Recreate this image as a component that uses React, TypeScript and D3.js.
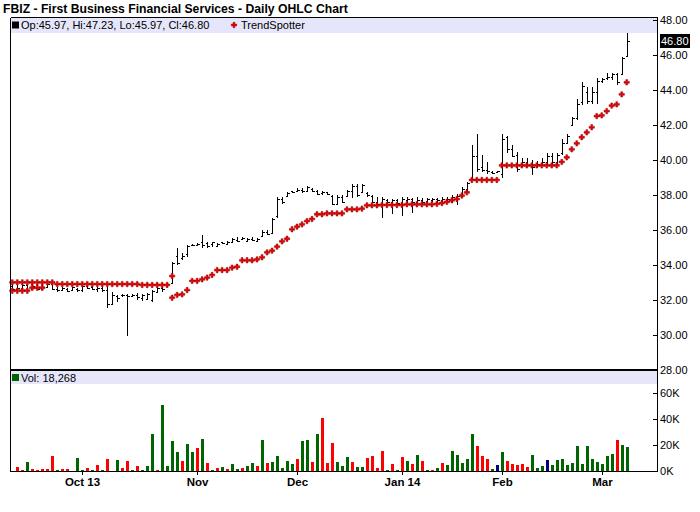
import * as d3 from "d3";

// daily bars, Sep 12 2013 .. Mar 2014 (124 sessions)
const highs = [
  32.86, 32.83, 32.9, 32.9, 32.86, 32.76, 32.8, 32.95, 32.95, 32.76,
  32.76, 32.67, 32.76, 32.67, 32.86, 32.86, 32.9, 32.76, 32.8, 32.76,
  32.47, 32.3, 32.35, 32.35, 32.35, 32.4, 32.35, 32.4, 32.57, 32.76,
  32.76, 32.95, 34.19, 34.99, 34.7, 35.14, 35.2, 35.25, 35.7, 35.33,
  35.33, 35.28, 35.33, 35.38, 35.56, 35.62, 35.62, 35.56, 35.62, 35.56,
  36.0, 36.0, 36.7, 37.9, 37.9, 38.19, 38.24, 38.38, 38.38, 38.53,
  38.4, 38.29, 38.24, 38.19, 38.0, 38.0, 38.0, 38.29, 38.61, 38.61,
  38.61, 38.19, 38.0, 37.9, 37.9, 37.77, 37.8, 37.77, 37.9, 37.9,
  37.81, 37.9, 37.81, 37.81, 37.81, 37.81, 37.9, 37.86, 38.0, 38.05,
  38.43, 38.76, 40.86, 41.49, 40.3, 39.9, 39.4, 39.4, 41.47, 41.37,
  40.86, 40.43, 40.1, 40.1, 40.0, 39.95, 40.1, 40.4, 40.4, 40.4,
  41.2, 41.49, 42.48, 43.5, 44.44, 44.2, 44.2, 44.67, 44.67, 44.95,
  45.0, 45.0, 45.9, 47.23,
];
const lows = [
  32.62, 32.57, 32.65, 32.57, 32.57, 32.57, 32.62, 32.67, 32.57, 32.48,
  32.57, 32.48, 32.53, 32.48, 32.48, 32.62, 32.57, 32.48, 32.48, 31.55,
  31.71, 31.9, 32.2, 29.94, 32.2, 32.0, 31.95, 32.0, 31.9, 32.4,
  32.48, 32.76, 32.95, 34.0, 34.3, 34.47, 35.1, 35.1, 34.95, 34.95,
  35.05, 35.05, 35.2, 35.15, 35.24, 35.33, 35.43, 35.33, 35.38, 35.33,
  35.62, 35.71, 35.8, 36.67, 37.5, 37.9, 38.1, 38.19, 38.1, 38.2,
  38.19, 38.0, 38.0, 38.0, 37.43, 37.43, 37.52, 37.9, 37.85, 37.9,
  38.1, 37.9, 37.52, 37.43, 36.7, 37.5, 36.9, 37.43, 36.8, 37.52,
  37.0, 37.43, 37.43, 37.52, 37.6, 37.52, 37.52, 37.6, 37.52, 37.43,
  37.9, 38.2, 38.86, 39.33, 39.3, 39.2, 39.2, 39.25, 39.0, 40.4,
  40.2, 39.3, 39.6, 39.6, 39.15, 39.57, 39.65, 39.65, 39.7, 39.7,
  40.3, 40.9, 41.94, 42.29, 43.14, 43.2, 43.2, 43.2, 44.4, 44.57,
  44.57, 44.3, 44.86, 45.97,
];
const opens = [
  32.8, 32.62, 32.7, 32.85, 32.62, 32.75, 32.65, 32.75, 32.9, 32.62,
  32.6, 32.65, 32.55, 32.65, 32.55, 32.8, 32.72, 32.62, 32.7, 32.6,
  31.8, 32.25, 32.3, 32.28, 32.25, 32.3, 32.1, 32.05, 32.0, 32.45,
  32.7, 32.8, 33.0, 34.5, 34.4, 34.6, 35.15, 35.15, 35.3, 35.25,
  35.2, 35.1, 35.3, 35.2, 35.3, 35.45, 35.5, 35.4, 35.5, 35.4,
  35.65, 35.9, 35.85, 36.8, 37.8, 37.95, 38.2, 38.25, 38.3, 38.25,
  38.35, 38.2, 38.1, 38.15, 37.95, 37.5, 37.9, 37.95, 38.2, 38.5,
  38.15, 38.1, 37.95, 37.6, 37.5, 37.7, 37.6, 37.7, 37.55, 37.7,
  37.75, 37.6, 37.7, 37.65, 37.7, 37.75, 37.7, 37.8, 37.75, 37.9,
  37.95, 38.35, 38.9, 40.2, 39.6, 39.45, 39.3, 39.3, 39.2, 41.3,
  40.6, 40.3, 39.7, 39.9, 39.7, 39.65, 39.8, 39.9, 40.2, 39.9,
  40.4, 41.0, 42.0, 42.4, 43.3, 43.9, 43.4, 43.9, 44.5, 44.7,
  44.75, 44.9, 44.9, 45.97,
];
const closes = [
  32.65, 32.7, 32.85, 32.6, 32.8, 32.62, 32.75, 32.9, 32.62, 32.55,
  32.7, 32.52, 32.72, 32.55, 32.8, 32.7, 32.62, 32.7, 32.55, 31.75,
  32.3, 32.1, 32.28, 32.2, 32.3, 32.15, 32.3, 32.35, 32.5, 32.7,
  32.65, 32.9, 34.1, 34.1, 34.5, 35.1, 35.15, 35.2, 35.15, 35.1,
  35.3, 35.2, 35.25, 35.3, 35.5, 35.4, 35.55, 35.5, 35.45, 35.5,
  35.9, 35.8, 36.6, 37.8, 37.6, 38.1, 38.15, 38.3, 38.2, 38.45,
  38.25, 38.05, 38.15, 38.05, 37.5, 37.9, 37.6, 38.2, 38.5, 38.0,
  38.55, 38.0, 37.6, 37.5, 37.8, 37.6, 37.7, 37.55, 37.75, 37.8,
  37.6, 37.7, 37.6, 37.75, 37.75, 37.7, 37.8, 37.75, 37.9, 37.95,
  38.35, 38.7, 40.2, 39.5, 39.45, 39.35, 39.25, 39.35, 41.2, 40.6,
  40.25, 39.5, 39.9, 39.7, 39.6, 39.8, 39.9, 40.2, 39.9, 40.3,
  41.0, 41.4, 42.4, 43.2, 44.2, 43.4, 43.9, 44.5, 44.6, 44.75,
  44.9, 44.45, 45.85, 46.8,
];

// TrendSpotter stops: early lower run, the run above price, then the run below price
const trendEarlyStart = 0;
const trendEarly = [32.53, 32.53, 32.53, 32.53, 32.7, 32.7, 32.7];
const trendDownStart = 0;
const trendDown = [
  33.01, 33.01, 33.01, 33.01, 33.01, 33.01, 33.01, 33.01, 33.01, 32.91,
  32.91, 32.91, 32.91, 32.91, 32.91, 32.91, 32.91, 32.91, 32.91, 32.91,
  32.91, 32.91, 32.91, 32.91, 32.91, 32.91, 32.86, 32.86, 32.86, 32.86,
  32.86, 32.86, 33.37,
];
const trendUpStart = 32;
const trendUp = [
  32.13, 32.29, 32.32, 32.57, 33.09, 33.09, 33.18, 33.28, 33.43, 33.71,
  33.71, 33.71, 33.85, 33.9, 34.27, 34.27, 34.27, 34.32, 34.44, 34.72,
  34.82, 35.05, 35.35, 35.5, 36.04, 36.19, 36.32, 36.51, 36.63, 36.9,
  36.9, 36.95, 36.95, 36.95, 36.95, 37.18, 37.18, 37.18, 37.22, 37.41,
  37.41, 37.41, 37.43, 37.43, 37.43, 37.43, 37.43, 37.47, 37.47, 37.47,
  37.47, 37.47, 37.47, 37.49, 37.54, 37.61, 37.7, 37.77, 37.97, 38.15,
  38.86, 38.86, 38.86, 38.86, 38.86, 38.86, 39.69, 39.69, 39.69, 39.69,
  39.69, 39.69, 39.69, 39.69, 39.69, 39.69, 39.69, 39.69, 39.89, 40.15,
  40.61, 40.95, 41.3, 41.58, 41.87, 42.51, 42.55, 42.79, 43.11, 43.18,
  43.75, 44.44,
];

// volume in thousands; u = up day, d = down day, n = unchanged
const volumes = [
  0, 3.3, 1.0, 6.9, 1.8, 1.0, 1.8, 1.8, 11.5, 1.0,
  1.8, 1.8, 0, 10.0, 1.0, 2.6, 1.0, 4.9, 1.0, 9.5,
  0, 8.5, 2.6, 7.9, 1.0, 4.1, 1.0, 4.1, 28.7, 1.0,
  50.8, 4.1, 23.3, 14.9, 7.9, 20.8, 14.9, 17.9, 24.9, 6.4,
  1.0, 2.6, 3.3, 1.8, 5.6, 1.8, 2.6, 4.1, 6.4, 4.1,
  24.1, 6.4, 7.2, 11.8, 2.6, 7.9, 5.6, 9.5, 23.3, 24.1,
  7.2, 28.7, 41.0, 6.4, 21.8, 7.2, 4.1, 10.8, 7.2, 3.1,
  3.1, 10.0, 11.5, 2.3, 15.4, 0.8, 5.4, 0.8, 10.8, 7.7,
  5.4, 12.3, 7.7, 0.8, 0.8, 2.6, 6.2, 4.6, 15.4, 12.3,
  6.2, 9.2, 28.5, 19.2, 11.5, 9.2, 1.5, 4.6, 14.6, 7.7,
  5.4, 4.6, 5.4, 3.1, 12.3, 2.3, 3.8, 8.5, 4.6, 8.5,
  9.2, 4.6, 6.2, 19.2, 5.4, 19.2, 9.2, 6.9, 5.4, 11.5,
  13.1, 23.8, 20.0, 18.268,
];
const volDir = [
  "uddudddddu", "dduuududud", "uudduduuud", "uuuuduudud",
  "ududuuduud", "uduuuuuduu", "duddduuudu", "uddddududu",
  "dudududuuu", "uuudddunud", "dddduuunuu", "uuuuuuuuuu", "uduu",
].join("");

const monthTickIdx = [14, 37, 57, 78, 98, 118];
const monthLabels = ["Oct 13", "Nov", "Dec", "Jan 14", "Feb", "Mar"];
const priceTicks = [28, 30, 32, 34, 36, 38, 40, 42, 44, 46, 48];
const volTicks = [0, 20, 40, 60];

const FONT = "'Liberation Sans', Arial, Helvetica, sans-serif";
const colorOf: Record<string, string> = { u: "#006400", d: "#ff0000", n: "#000080" };

export default function App() {
  const left = 10.5;
  const right = 657.5;
  const top = 17.5;
  const bottom = 471.5;
  const x = d3.scaleLinear().domain([0, highs.length - 1]).range([12.3, 626.7]);
  const yP = d3.scaleLinear().domain([28, 48]).range([370, 20]);
  const yV = d3.scaleLinear().domain([0, 60]).range([471, 393]);
  const marker = d3.symbol().type(d3.symbolCross).size(16)() || "";

  const last = closes.length - 1;

  const dots: { i: number; v: number }[] = [
    ...trendEarly.map((v, k) => ({ i: trendEarlyStart + k, v })),
    ...trendDown.map((v, k) => ({ i: trendDownStart + k, v })),
    ...trendUp.map((v, k) => ({ i: trendUpStart + k, v })),
  ];

  return (
    <svg
      width={700}
      height={512}
      style={{ position: "absolute", left: 0, top: 0, background: "#fff" }}
      fontFamily={FONT}
    >
      <text x={3} y={13} fontSize={12.2} fontWeight="bold" fill="#000">
        FBIZ - First Business Financial Services - Daily OHLC Chart
      </text>

      {/* legend bands */}
      <rect x={left} y={top} width={right - left} height={15.5} fill="#e6e6fa" />
      <rect x={left} y={371} width={right - left} height={13} fill="#e6e6fa" />

      {/* price bars */}
      <g stroke="#000" strokeWidth={1} shapeRendering="crispEdges">
        {highs.map((h, i) => {
          const cx = Math.round(x(i)) + 0.5;
          const yo = Math.round(yP(opens[i])) + 0.5;
          const yc = Math.round(yP(closes[i])) + 0.5;
          const d = `M${cx},${yP(h)}V${yP(lows[i])}M${cx - 2},${yo}H${cx}M${cx},${yc}H${cx + 2}`;
          return <path key={i} d={d} fill="none" />;
        })}
      </g>

      {/* TrendSpotter */}
      <g>
        {dots.map((p, k) => (
          <path
            key={k}
            d={marker}
            transform={`translate(${x(p.i)},${yP(p.v)})`}
            fill="#ee0000"
            stroke="#8b0000"
            strokeWidth={0.5}
          />
        ))}
      </g>

      {/* volume bars */}
      <g shapeRendering="crispEdges">
        {volumes.map((v, i) =>
          v > 0 ? (
            <rect
              key={i}
              x={Math.round(x(i)) - 1}
              y={yV(v)}
              width={3}
              height={yV(0) - yV(v)}
              fill={colorOf[volDir[i]]}
            />
          ) : null
        )}
      </g>

      {/* frame */}
      <g stroke="#000" shapeRendering="crispEdges" fill="none">
        <line x1={left} x2={right} y1={top} y2={top} />
        <line x1={left} x2={left} y1={top} y2={bottom} />
        <line x1={right} x2={right} y1={top} y2={bottom} />
        <line x1={left} x2={right} y1={bottom} y2={bottom} />
        <line x1={left} x2={right} y1={370} y2={370} strokeWidth={2} />
      </g>

      {/* legends */}
      <rect x={12} y={21.5} width={7} height={7} fill="#000" />
      <text x={21} y={29} fontSize={11}>
        Op:{opens[last].toFixed(2)}, Hi:{highs[last].toFixed(2)}, Lo:{lows[last].toFixed(2)}, Cl:
        {closes[last].toFixed(2)}
      </text>
      <path d={marker} transform="translate(234,25)" fill="#ee0000" stroke="#8b0000" strokeWidth={0.5} />
      <text x={241} y={29} fontSize={11}>
        TrendSpotter
      </text>
      <rect x={12} y={374} width={7} height={7} fill="#006400" />
      <text x={21} y={382} fontSize={11}>
        Vol: {d3.format(",")(Math.round(volumes[last] * 1000))}
      </text>

      {/* right price axis */}
      <g fontSize={11}>
        {priceTicks.map((t) => (
          <g key={t} transform={`translate(0,${yP(t)})`}>
            <line x1={653} x2={657} stroke="#000" shapeRendering="crispEdges" />
            <text x={660} dy="0.35em">
              {t.toFixed(2)}
            </text>
          </g>
        ))}
        <rect x={660} y={yP(closes[last]) - 7} width={30} height={14} fill="#000" />
        <text x={661} y={yP(closes[last])} dy="0.35em" fill="#fff">
          {closes[last].toFixed(2)}
        </text>
        {volTicks.map((t) => (
          <g key={t} transform={`translate(0,${yV(t)})`}>
            <line x1={653} x2={657} stroke="#000" shapeRendering="crispEdges" />
            <text x={660} dy="0.35em">
              {t}K
            </text>
          </g>
        ))}
      </g>

      {/* month axis */}
      <g fontSize={11.5} fontWeight="bold">
        {monthTickIdx.map((m, k) => (
          <g key={m} transform={`translate(${Math.round(x(m)) + 0.5},0)`}>
            <line y1={471} y2={475} stroke="#000" shapeRendering="crispEdges" />
            <text y={486} textAnchor="middle">
              {monthLabels[k]}
            </text>
          </g>
        ))}
      </g>
    </svg>
  );
}
